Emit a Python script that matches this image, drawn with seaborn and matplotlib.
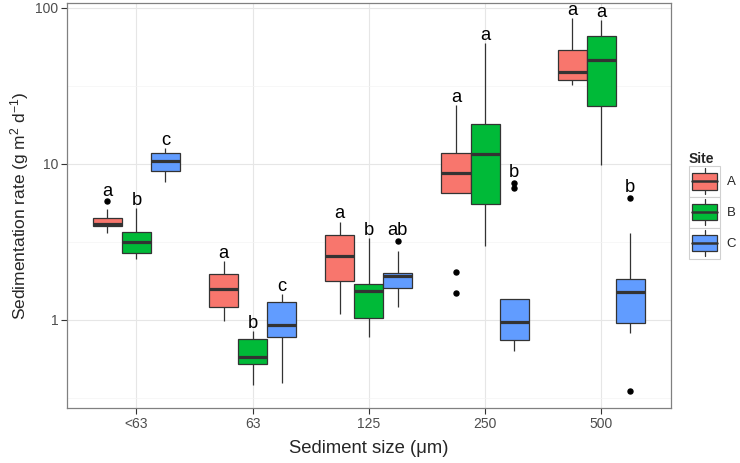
import numpy as np
import pandas as pd
import matplotlib
matplotlib.use("Agg")
import matplotlib.pyplot as plt
import seaborn as sns
from matplotlib.patches import Patch, Rectangle
from matplotlib.lines import Line2D
from matplotlib.legend_handler import HandlerBase
from matplotlib.ticker import FixedLocator, NullFormatter

# ---------------- data ----------------
sizes = ["<63", "63", "125", "250", "500"]
sites = ["A", "B", "C"]

# sediment rates (g m^2 d^-1) per site, one list per sediment size class
site_A = [
    [3.57, 3.80, 3.98, 4.02, 4.08, 4.25, 4.46, 5.09, 5.73],
    [0.975, 1.10, 1.21, 1.40, 1.58, 1.75, 1.96, 2.15, 2.38],
    [1.08, 1.40, 1.77, 2.15, 2.55, 3.00, 3.46, 3.85, 4.24],
    [1.49, 2.02, 6.51, 7.50, 8.71, 10.0, 11.72, 18.0, 23.8],
    [32.0, 33.0, 34.4, 36.0, 38.4, 45.0, 53.3, 70.0, 85.1],
]
site_B = [
    [2.43, 2.55, 2.66, 2.90, 3.15, 3.40, 3.66, 4.30, 5.17],
    [0.382, 0.45, 0.521, 0.55, 0.572, 0.66, 0.750, 0.80, 0.841],
    [0.773, 0.90, 1.02, 1.25, 1.52, 1.60, 1.70, 2.50, 3.33],
    [2.96, 4.20, 5.53, 8.00, 11.49, 14.5, 18.0, 35.0, 59.4],
    [9.77, 16.0, 23.3, 35.0, 45.9, 55.0, 65.5, 75.0, 83.0],
]
site_C = [
    [7.59, 8.20, 8.93, 9.60, 10.36, 11.0, 11.67, 12.1, 12.56],
    [0.392, 0.60, 0.778, 0.85, 0.919, 1.10, 1.29, 1.37, 1.45],
    [1.21, 1.40, 1.60, 1.75, 1.90, 1.95, 2.00, 2.76, 3.19],
    [0.632, 0.69, 0.739, 0.85, 0.961, 1.15, 1.35, 6.93, 7.52],
    [0.35, 0.82, 0.951, 1.20, 1.51, 1.65, 1.82, 3.57, 6.04],
]

letters_A = ["a", "a", "a", "a", "a"]
letters_B = ["b", "b", "b", "a", "a"]
letters_C = ["c", "c", "ab", "b", "b"]

y_ticks = [1, 10, 100]
y_tick_labels = ["1", "10", "100"]

palette = {"A": "#F8766D", "B": "#00BA38", "C": "#619CFF"}

# ---------------- build long table ----------------
rows = []
for site, groups in zip(sites, [site_A, site_B, site_C]):
    for size, vals in zip(sizes, groups):
        for v in vals:
            rows.append({"size": size, "site": site, "rate": v})
df = pd.DataFrame(rows)

# ---------------- style ----------------
sns.set_style("white")
plt.rcParams["font.family"] = ["Liberation Sans", "DejaVu Sans"]
plt.rcParams["mathtext.fontset"] = "custom"
plt.rcParams["mathtext.rm"] = "Liberation Sans"
plt.rcParams["mathtext.it"] = "Liberation Sans:italic"
plt.rcParams["mathtext.default"] = "regular"

W, H = 740, 463
fig = plt.figure(figsize=(W / 100, H / 100), dpi=100)
ax = fig.add_axes([66.7 / W, 1 - 408.3 / H, (671 - 66.7) / W, (408.3 - 2.7) / H])

edge = "#333333"
sns.boxplot(
    data=df, x="size", y="rate", hue="site",
    order=sizes, hue_order=sites, palette=palette,
    saturation=1, width=0.75, gap=0, dodge=True,
    log_scale=True, whis=1.5, showcaps=False,
    linewidth=0.9, linecolor=edge,
    medianprops=dict(linewidth=2.3, color=edge),
    whiskerprops=dict(linewidth=0.9, color=edge),
    boxprops=dict(linewidth=0.9, edgecolor=edge),
    flierprops=dict(marker="o", markersize=3.6, markerfacecolor="black",
                    markeredgecolor="black"),
    legend=False, ax=ax,
)

# ---------------- significance letters ----------------
offsets = {"A": -0.25, "B": 0.0, "C": 0.25}
for site, groups, letters in zip(sites, [site_A, site_B, site_C],
                                 [letters_A, letters_B, letters_C]):
    for i, (vals, lab) in enumerate(zip(groups, letters)):
        lv = np.log10(np.asarray(vals))
        q1, q3 = np.percentile(lv, [25, 75])
        fence = q3 + 1.5 * (q3 - q1)
        top = lv.max()
        off_px = 5.5 if top > fence else 3.3
        ax.annotate(lab, xy=(i + offsets[site], 10 ** top),
                    xytext=(0, off_px * 72 / 100), textcoords="offset points",
                    ha="center", va="baseline", fontsize=13.2, color="black")

# ---------------- axes ----------------
ax.set_xlim(-0.6, 4.6)
ax.set_ylim(0.27, 107.4)
ax.set_yticks(y_ticks)
ax.set_yticklabels(y_tick_labels)
ax.yaxis.set_minor_locator(FixedLocator([10 ** -0.5, 10 ** 0.5, 10 ** 1.5]))
ax.yaxis.set_minor_formatter(NullFormatter())
ax.tick_params(axis="both", which="major", direction="out", length=4,
               width=0.8, color=edge, labelsize=10, labelcolor="#4D4D4D",
               pad=2, left=True, bottom=True)
ax.tick_params(axis="y", which="minor", length=0)

ax.set_axisbelow(True)
ax.grid(True, which="major", axis="both", color="#E6E6E6", linewidth=0.8)
ax.grid(True, which="minor", axis="y", color="#F4F4F4", linewidth=0.5)
for sp in ax.spines.values():
    sp.set_color("#808080")
    sp.set_linewidth(0.9)

ax.set_xlabel("Sediment size (μm)", fontsize=13.3, labelpad=7)
ax.set_ylabel("Sedimentation rate (g m$^{2}$ d$^{-1}$)", fontsize=12.5)
ax.yaxis.set_label_coords((31 - 66.7) / (671 - 66.7), 0.5)

# ---------------- legend with boxplot keys ----------------
class BoxKeyHandler(HandlerBase):
    def create_artists(self, legend, orig_handle, xdescent, ydescent,
                       width, height, fontsize, trans):
        x0, y0 = -xdescent, -ydescent
        frame = Rectangle((x0, y0), width, height, facecolor="white",
                          edgecolor="#D0D0D0", linewidth=0.8, transform=trans)
        cx = x0 + width / 2
        bw = width * 0.8
        bh = height * 0.52
        by = y0 + (height - bh) / 2
        wl = Line2D([cx, cx], [y0 + height * 0.08, y0 + height * 0.92],
                    color=edge, linewidth=0.9, transform=trans)
        box = Rectangle((cx - bw / 2, by), bw, bh,
                        facecolor=orig_handle.get_facecolor(), edgecolor=edge,
                        linewidth=0.9, transform=trans)
        med = Line2D([cx - bw / 2, cx + bw / 2], [y0 + height / 2] * 2,
                     color=edge, linewidth=1.8, transform=trans)
        return [frame, wl, box, med]

leg_fs = 9.5
handles = [Patch(facecolor=palette[s]) for s in sites]
leg = fig.legend(handles, sites, handler_map={Patch: BoxKeyHandler()},
                 loc="upper left", bbox_to_anchor=(689 / W, 1 - 152 / H),
                 frameon=False, fontsize=leg_fs, title="Site",
                 title_fontproperties={"weight": "bold", "size": 10},
                 handlelength=2.35, handleheight=3.23, labelspacing=0.0,
                 handletextpad=0.5, borderpad=0.0, borderaxespad=0.0,
                 alignment="left")

fig.savefig("out.png", dpi=100)
